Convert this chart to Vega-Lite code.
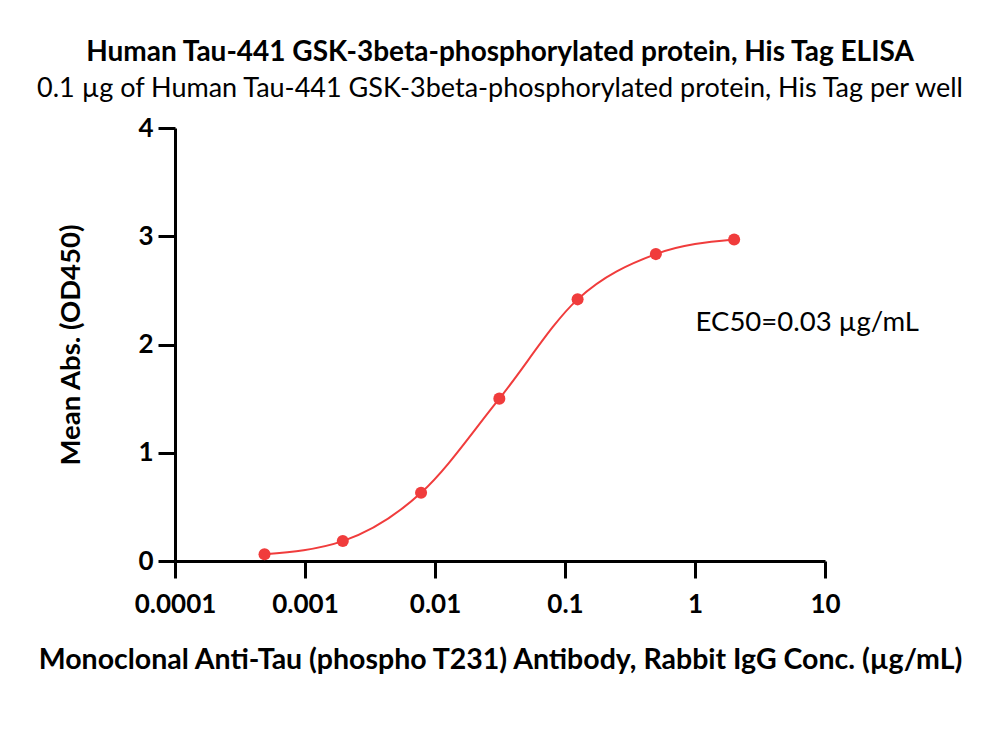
{
  "$schema": "https://vega.github.io/schema/vega-lite/v6.json",
  "autosize": {"type": "none"},
  "padding": {"left": 175, "top": 128, "right": 175, "bottom": 184},
  "width": 650,
  "height": 433,
  "background": "white",
  "config": {"view": {"stroke": null}, "font": "Lato"},
  "title": {
    "text": "Human Tau-441 GSK-3beta-phosphorylated protein, His Tag ELISA",
    "subtitle": "0.1 µg of Human Tau-441 GSK-3beta-phosphorylated protein, His Tag per well",
    "anchor": "middle",
    "font": "Lato",
    "fontSize": 28,
    "fontWeight": "bold",
    "color": "black",
    "subtitleFont": "Lato",
    "subtitleFontSize": 27,
    "subtitleColor": "black",
    "subtitlePadding": 9,
    "offset": 13
  },
  "datasets": {
    "points": [
      {"conc": 0.00048828, "od": 0.062},
      {"conc": 0.0019531, "od": 0.184},
      {"conc": 0.0078125, "od": 0.63},
      {"conc": 0.03125, "od": 1.50},
      {"conc": 0.125, "od": 2.417},
      {"conc": 0.5, "od": 2.835},
      {"conc": 2, "od": 2.97}
    ],
    "label": [
      {"conc": 1.01, "od": 2.2, "text": "EC50=0.03 µg/mL"}
    ]
  },
  "layer": [
    {
      "data": {"name": "points"},
      "mark": {"type": "line", "color": "#F03C3C", "strokeWidth": 2, "interpolate": "monotone"},
      "encoding": {
        "x": {
          "field": "conc", "type": "quantitative",
          "scale": {"type": "log", "domain": [0.0001, 10]},
          "axis": {
            "values": [0.0001, 0.001, 0.01, 0.1, 1, 10],
            "labelExpr": "datum.value >= 1 ? format(datum.value, 'd') : format(datum.value, '~g')",
            "title": "Monoclonal Anti-Tau (phospho T231) Antibody, Rabbit IgG Conc. (µg/mL)",
            "titleFont": "Lato", "titleFontSize": 28.5, "titleFontWeight": "bold", "titleColor": "black",
            "titlePadding": 28,
            "labelFont": "Lato", "labelFontSize": 26, "labelFontWeight": "bold", "labelColor": "black",
            "labelPadding": 13,
            "domainColor": "black", "domainWidth": 3,
            "tickColor": "black", "tickWidth": 3, "tickSize": 17,
            "grid": false, "labelFlush": false, "labelOverlap": false
          }
        },
        "y": {
          "field": "od", "type": "quantitative",
          "scale": {"domain": [0, 4], "nice": false},
          "axis": {
            "values": [0, 1, 2, 3, 4],
            "format": "d",
            "title": "Mean Abs. (OD450)",
            "titleFont": "Lato", "titleFontSize": 27.5, "titleFontWeight": "bold", "titleColor": "black",
            "titlePadding": 52,
            "labelFont": "Lato", "labelFontSize": 26, "labelFontWeight": "bold", "labelColor": "black",
            "labelPadding": 5,
            "domainColor": "black", "domainWidth": 3,
            "tickColor": "black", "tickWidth": 3, "tickSize": 17,
            "grid": false
          }
        }
      }
    },
    {
      "data": {"name": "points"},
      "mark": {"type": "point", "filled": true, "color": "#F03C3C", "size": 145, "opacity": 1},
      "encoding": {
        "x": {"field": "conc", "type": "quantitative"},
        "y": {"field": "od", "type": "quantitative"}
      }
    },
    {
      "data": {"name": "label"},
      "mark": {"type": "text", "align": "left", "baseline": "middle", "font": "Lato", "fontSize": 27.5, "color": "black"},
      "encoding": {
        "x": {"field": "conc", "type": "quantitative"},
        "y": {"field": "od", "type": "quantitative"},
        "text": {"field": "text"}
      }
    }
  ]
}
